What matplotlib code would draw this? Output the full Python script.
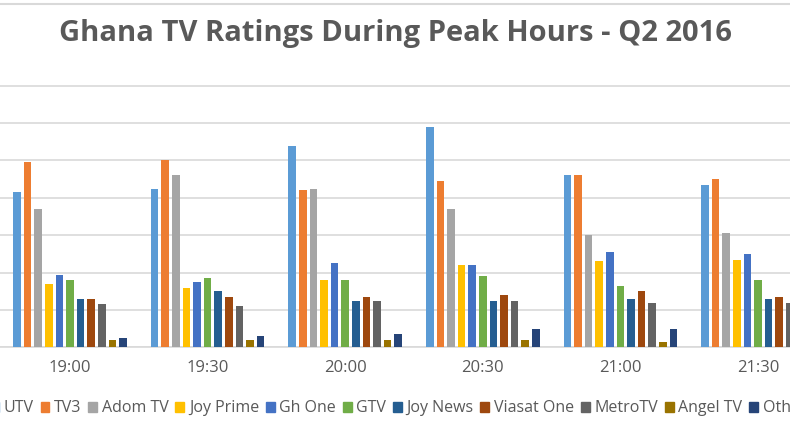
import numpy as np
import matplotlib.pyplot as plt
from matplotlib.lines import Line2D

# time slots and channels
slots = ['19:00', '19:30', '20:00', '20:30', '21:00', '21:30']
channels = ['UTV', 'TV3', 'Adom TV', 'Joy Prime', 'Gh One', 'GTV',
            'Joy News', 'Viasat One', 'MetroTV', 'Angel TV', 'Others']

# ratings (one list per channel, per slot)
utv = [8.3, 8.5, 10.8, 11.8, 9.2, 8.7]
tv3 = [9.9, 10.0, 8.4, 8.9, 9.2, 9.0]
adom = [7.4, 9.2, 8.5, 7.4, 6.0, 6.1]
joy_prime = [3.4, 3.2, 3.6, 4.4, 4.6, 4.7]
gh_one = [3.9, 3.5, 4.5, 4.4, 5.1, 5.0]
gtv = [3.6, 3.7, 3.6, 3.8, 3.3, 3.6]
joy_news = [2.6, 3.0, 2.5, 2.5, 2.6, 2.6]
viasat = [2.6, 2.7, 2.7, 2.8, 3.0, 2.7]
metro = [2.3, 2.2, 2.5, 2.5, 2.4, 2.4]
angel = [0.4, 0.4, 0.4, 0.4, 0.3, 0.4]
others = [0.5, 0.6, 0.7, 1.0, 1.0, 0.9]

series = [utv, tv3, adom, joy_prime, gh_one, gtv,
          joy_news, viasat, metro, angel, others]
colors = ['#5B9BD5', '#ED7D31', '#A5A5A5', '#FFC000', '#4472C4', '#70AD47',
          '#255E91', '#9E480E', '#636363', '#997300', '#264478']

fig = plt.figure(figsize=(7.9, 4.3), dpi=100)
ax = fig.add_axes([0, 0.1919, 1, 0.6175])

x = np.arange(len(slots))
slot_w = 0.077
for k, vals in enumerate(series):
    ax.bar(x + (k - 5) * slot_w, vals, width=0.055, color=colors[k],
           label=channels[k], zorder=3)

ax.set_xlim(-0.509, 5.233)
ax.set_ylim(0, 14.2)
ax.set_yticks(np.arange(0, 15, 2))
ax.yaxis.grid(True, color='#D9D9D9', linewidth=1.2, zorder=0)
ax.tick_params(axis='y', left=False, labelleft=False)
ax.set_xticks(x)
ax.set_xticklabels(slots, fontsize=12, color='#595959', family='Open Sans')
ax.tick_params(axis='x', length=0, pad=9)
for s in ['top', 'left', 'right']:
    ax.spines[s].set_visible(False)
ax.spines['bottom'].set_color('#D9D9D9')
ax.spines['bottom'].set_linewidth(1.2)

fig.suptitle('Ghana TV Ratings During Peak Hours - Q2 2016', x=0.5, y=0.955,
             fontsize=21, fontweight='bold', color='#595959', family='Open Sans')

# thin border line at the top of the chart
fig.add_artist(Line2D([0, 1], [0.991, 0.991], color='#D9D9D9', linewidth=1.5))

handles = [plt.Rectangle((0, 0), 1, 1, color=c) for c in colors]
fig.legend(handles, channels, loc='center', bbox_to_anchor=(0.509, 0.05),
           ncol=11, frameon=False, handlelength=0.55, handleheight=0.55,
           handletextpad=0.3, columnspacing=0.42,
           prop={'family': 'Open Sans', 'size': 11.5}, labelcolor='#595959')

fig.savefig('out.png', dpi=100)
